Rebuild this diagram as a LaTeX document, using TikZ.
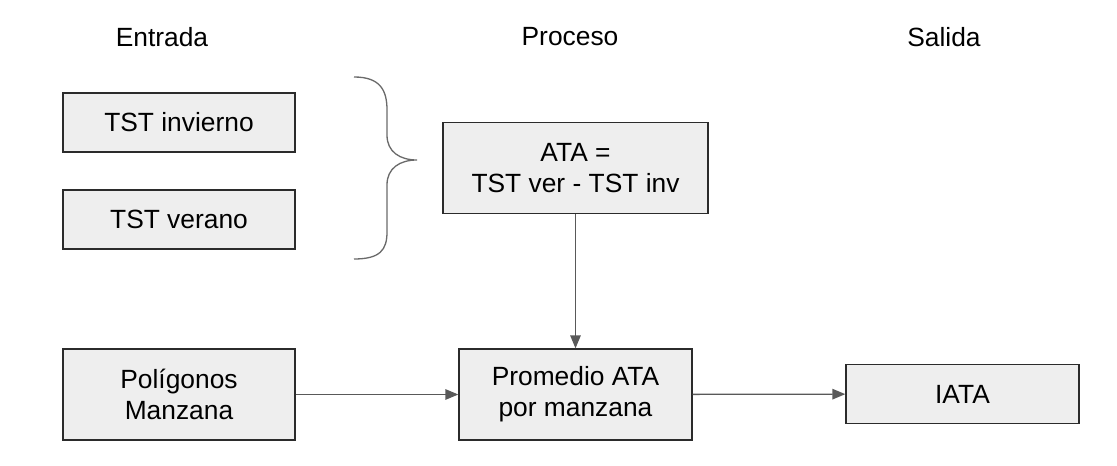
\documentclass[tikz,border=0pt]{standalone}
\usepackage{fontspec}
\setmainfont{Liberation Sans}
\usetikzlibrary{arrows.meta}
\definecolor{boxfill}{HTML}{EEEEEE}
\definecolor{boxline}{HTML}{2B2B2B}
\definecolor{arrowgray}{HTML}{595959}
\tikzset{
	caja/.style={draw=boxline, fill=boxfill, line width=0.75pt, inner sep=0pt, minimum width=232*0.02cm, align=center, font=\fontsize{15}{17.8}\selectfont},
	titulo/.style={font=\fontsize{15}{17.8}\selectfont},
	flecha/.style={draw=arrowgray, line width=0.75pt, -{Triangle[length=0.26cm, width=0.21cm]}}
}

\begin{document}
\begin{tikzpicture}[x=0.02cm, y=-0.02cm]
			%%%%% START %%%%%
			
			\useasboundingbox (0, 0) rectangle (1117, 466);
			
			\node[titulo] (entrada) at (162, 37) {Entrada};
			\node[titulo] (proceso) at (570, 37) {Proceso};
			\node[titulo] (salida) at (944, 37) {Salida};
			
			\node[caja, minimum height=59*0.02cm] (invierno) at (179, 122.5) {TST invierno};
			\node[caja, minimum height=59*0.02cm] (verano) at (179, 219.5) {TST verano};
			\node[caja, minimum height=91*0.02cm] (poligonos) at (179, 394.5) {Polígonos\\Manzana};
			
			\draw[color=arrowgray!90, line width=0.75pt] (354, 77) .. controls (380, 77) and (387, 90) .. (387, 110) -- (387, 135) .. controls (387, 152) and (400, 160) .. (417, 160) .. controls (400, 160) and (387, 168) .. (387, 185) -- (387, 232) .. controls (387, 250) and (380, 259) .. (354, 259);
			
			\node[caja, minimum width=265*0.02cm, minimum height=91*0.02cm] (ata) at (575.5, 168) {ATA =\\ TST ver - TST inv};
			\node[caja, minimum width=233*0.02cm, minimum height=91*0.02cm] (promedio) at (575.5, 394.5) {Promedio ATA\\por manzana};
			
			\node[caja, minimum width=233*0.02cm, minimum height=59*0.02cm] (iata) at (962.5, 394) {IATA};
			
			\draw[flecha] (ata) -- (promedio);
			\draw[flecha] (poligonos) -- (promedio);
			\draw[flecha] (promedio) -- (iata);
			
			%%%%% END %%%%%
\end{tikzpicture}
\end{document}
